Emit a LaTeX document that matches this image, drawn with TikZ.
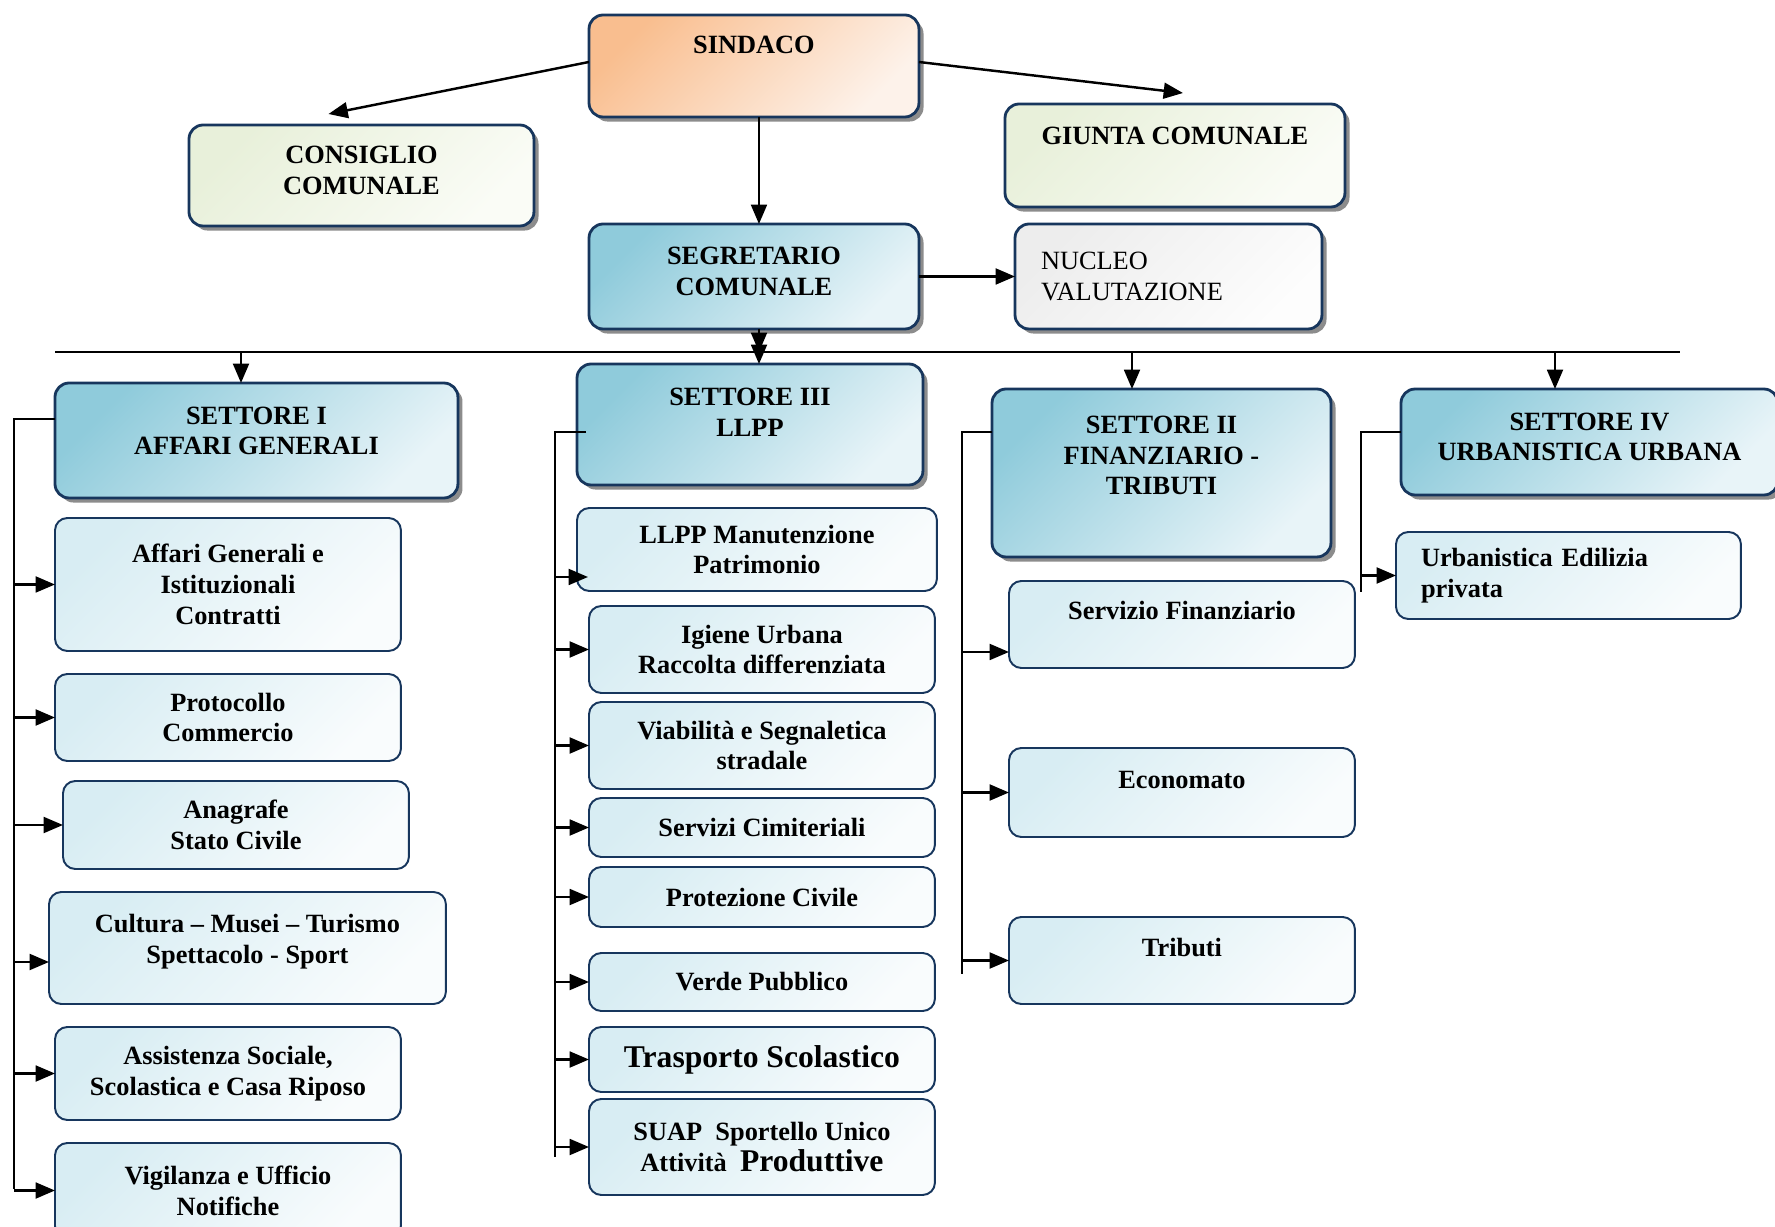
\documentclass[tikz,border=0pt]{standalone}
\usepackage{fontspec}
\setmainfont{Liberation Serif}
\usetikzlibrary{arrows.meta,shadows}

\definecolor{bordo}{HTML}{17365D}
\definecolor{arancio}{HTML}{F9BE8F}
\definecolor{arancioch}{HTML}{FDF2EA}
\definecolor{verde}{HTML}{E8F0DA}
\definecolor{verdech}{HTML}{FAFCF6}
\definecolor{azzurro}{HTML}{8FCBDB}
\definecolor{azzurroch}{HTML}{E8F4F8}
\definecolor{celeste}{HTML}{D8EDF3}
\definecolor{celestech}{HTML}{F9FCFD}
\definecolor{grigio}{HTML}{EDEDED}
\definecolor{grigioch}{HTML}{FDFDFD}

\tikzset{
	base/.style={draw=bordo, line width=1.6pt, rounded corners=8pt, anchor=north west, align=center, inner sep=2pt, outer sep=0pt, font=\fontsize{15}{17.5}\selectfont\bfseries},
	ombra/.style={drop shadow={shadow xshift=2.6pt, shadow yshift=-2.6pt, fill=black!45, opacity=1}},
	capo/.style={base, ombra, top color=arancio, bottom color=arancioch, shading angle=45},
	organo/.style={base, ombra, top color=verde, bottom color=verdech, shading angle=45},
	settore/.style={base, ombra, top color=azzurro, bottom color=azzurroch, shading angle=45},
	nucleo/.style={base, ombra, top color=grigio, bottom color=grigioch, shading angle=45, font=\fontsize{15}{17.5}\selectfont, align=left},
	ufficio/.style={base, line width=1.1pt, rounded corners=7pt, top color=celeste, bottom color=celestech, shading angle=45},
	linea/.style={line width=1.2pt},
	freccia/.style={line width=1.4pt, -{Triangle[length=11pt,width=9pt]}}
}

\begin{document}
\begin{tikzpicture}[x=0.02cm, y=-0.02cm]
	\useasboundingbox (0,0) rectangle (1775,1227);

	% vertice
	\node[capo, minimum width=6.6cm, minimum height=2.04cm, text depth=24pt] (sindaco) at (589,15) {SINDACO};
	\node[organo, minimum width=6.9cm, minimum height=2.02cm, text depth=6pt] (consiglio) at (189,125) {CONSIGLIO\\COMUNALE};
	\node[organo, minimum width=6.8cm, minimum height=2.06cm, text depth=22pt] (giunta) at (1005,104) {GIUNTA COMUNALE};
	\node[settore, minimum width=6.6cm, minimum height=2.1cm, text depth=6pt] (segretario) at (589,224) {SEGRETARIO\\COMUNALE};
	\node[nucleo, minimum width=6.14cm, minimum height=2.1cm, text width=5.1cm] (nucleo) at (1015,224) {NUCLEO\\VALUTAZIONE};

	\draw[freccia] ([yshift=0.08cm]sindaco.west) -- ([xshift=-0.66cm,yshift=0.22cm]consiglio.north);
	\draw[freccia] ([yshift=0.08cm]sindaco.east) -- ([xshift=0.16cm,yshift=0.22cm]giunta.north);
	\draw[freccia] ([xshift=0.1cm]sindaco.south) -- ([xshift=0.1cm]segretario.north);
	\draw[freccia] (segretario.east) -- (nucleo.west);

	% settori
	\node[settore, minimum width=8.06cm, minimum height=2.3cm, text depth=11pt] (s1) at (55,383) {SETTORE I\\AFFARI GENERALI};
	\node[settore, minimum width=6.92cm, minimum height=2.42cm, text depth=14pt] (s3) at (577,364) {SETTORE III\\LLPP};
	\node[settore, minimum width=6.78cm, minimum height=3.36cm, text depth=20pt] (s2) at (992,389) {SETTORE II\\FINANZIARIO -\\TRIBUTI};
	\node[settore, minimum width=7.54cm, minimum height=2.12cm, text depth=6pt] (s4) at (1401,389) {SETTORE IV\\URBANISTICA URBANA};

	\coordinate (busL) at (55,352);
	\coordinate (busR) at (1680,352);
	\coordinate (bI) at (241,352);
	\coordinate (bIII) at (759,352);
	\coordinate (bII) at (1132,352);
	\coordinate (bIV) at (1555,352);
	\draw[linea] (busL) -- (busR);
	\draw[freccia] (bIII |- segretario.south) -- (bIII);
	\draw[freccia] (bIII) -- (bIII |- s3.north);
	\draw[freccia] (bI) -- (bI |- s1.north);
	\draw[freccia] (bII) -- (bII |- s2.north);
	\draw[freccia] (bIV) -- (bIV |- s4.north);

	% settore I
	\node[ufficio, minimum width=6.92cm, minimum height=2.66cm] (a1) at (55,518) {Affari Generali e\\Istituzionali\\Contratti};
	\node[ufficio, minimum width=6.92cm, minimum height=1.74cm] (a2) at (55,674) {Protocollo\\Commercio};
	\node[ufficio, minimum width=6.92cm, minimum height=1.76cm] (a3) at (63,781) {Anagrafe\\Stato Civile};
	\node[ufficio, minimum width=7.94cm, minimum height=2.24cm, text depth=10pt] (a4) at (49,892) {Cultura -- Musei -- Turismo\\Spettacolo - Sport};
	\node[ufficio, minimum width=6.92cm, minimum height=1.86cm] (a5) at (55,1027) {Assistenza Sociale,\\Scolastica e Casa Riposo};
	\node[ufficio, minimum width=6.92cm, minimum height=1.9cm] (a6) at (55,1143) {Vigilanza e Ufficio\\Notifiche};

	\coordinate (r1) at (14,419);
	\coordinate (r1b) at (14,1189);
	\draw[linea] (s1.west |- r1) -- (r1) -- (r1b);
	\draw[freccia] (r1 |- a1.west) -- (a1.west);
	\draw[freccia] (r1 |- a2.west) -- (a2.west);
	\draw[freccia] (r1 |- a3.west) -- (a3.west);
	\draw[freccia] ([yshift=-0.28cm]r1 |- a4.west) -- ([yshift=-0.28cm]a4.west);
	\draw[freccia] (r1 |- a5.west) -- (a5.west);
	\draw[freccia] (r1 |- a6.west) -- (a6.west);

	% settore III
	\node[ufficio, minimum width=7.2cm, minimum height=1.66cm] (b1) at (577,508) {LLPP Manutenzione\\Patrimonio};
	\node[ufficio, minimum width=6.92cm, minimum height=1.74cm] (b2) at (589,606) {Igiene Urbana\\Raccolta differenziata};
	\node[ufficio, minimum width=6.92cm, minimum height=1.74cm] (b3) at (589,702) {Viabilità e Segnaletica\\stradale};
	\node[ufficio, minimum width=6.92cm, minimum height=1.18cm] (b4) at (589,798) {Servizi Cimiteriali};
	\node[ufficio, minimum width=6.92cm, minimum height=1.2cm] (b5) at (589,867) {Protezione Civile};
	\node[ufficio, minimum width=6.92cm, minimum height=1.16cm] (b6) at (589,953) {Verde Pubblico};
	\node[ufficio, minimum width=6.92cm, minimum height=1.3cm, font=\fontsize{18}{21}\selectfont\bfseries] (b7) at (589,1027) {Trasporto Scolastico};
	\node[ufficio, minimum width=6.92cm, minimum height=1.92cm] (b8) at (589,1099) {SUAP\enspace Sportello Unico\\Attività\enspace{\fontsize{18}{21}\selectfont Produttive}};

	\coordinate (r3) at (555,432);
	\coordinate (r3b) at (555,1157);
	\draw[linea] ([xshift=0.18cm]s3.west |- r3) -- (r3) -- (r3b);
	\draw[freccia] ([yshift=-0.55cm]r3 |- b1.west) -- ([xshift=0.22cm,yshift=-0.55cm]b1.west);
	\draw[freccia] (r3 |- b2.west) -- (b2.west);
	\draw[freccia] (r3 |- b3.west) -- (b3.west);
	\draw[freccia] (r3 |- b4.west) -- (b4.west);
	\draw[freccia] (r3 |- b5.west) -- (b5.west);
	\draw[freccia] (r3 |- b6.west) -- (b6.west);
	\draw[freccia] (r3 |- b7.west) -- (b7.west);
	\draw[freccia] (r3 |- b8.west) -- (b8.west);

	% settore II
	\node[ufficio, minimum width=6.92cm, minimum height=1.74cm, text depth=16pt] (c1) at (1009,581) {Servizio Finanziario};
	\node[ufficio, minimum width=6.92cm, minimum height=1.78cm, text depth=14pt] (c2) at (1009,748) {Economato};
	\node[ufficio, minimum width=6.92cm, minimum height=1.74cm, text depth=15pt] (c3) at (1009,917) {Tributi};

	\coordinate (r2) at (962,432);
	\coordinate (r2b) at (962,974);
	\draw[linea] (s2.west |- r2) -- (r2) -- (r2b);
	\draw[freccia] ([yshift=-0.55cm]r2 |- c1.west) -- ([yshift=-0.55cm]c1.west);
	\draw[freccia] (r2 |- c2.west) -- (c2.west);
	\draw[freccia] (r2 |- c3.west) -- (c3.west);

	% settore IV
	\node[ufficio, minimum width=6.9cm, minimum height=1.74cm, text width=5.9cm, align=left] (d1) at (1396,532) {Urbanistica Edilizia\\privata};

	\coordinate (r4) at (1361,432);
	\coordinate (r4b) at (1361,592);
	\draw[linea] (s4.west |- r4) -- (r4) -- (r4b);
	\draw[freccia] (r4 |- d1.west) -- (d1.west);
\end{tikzpicture}
\end{document}
